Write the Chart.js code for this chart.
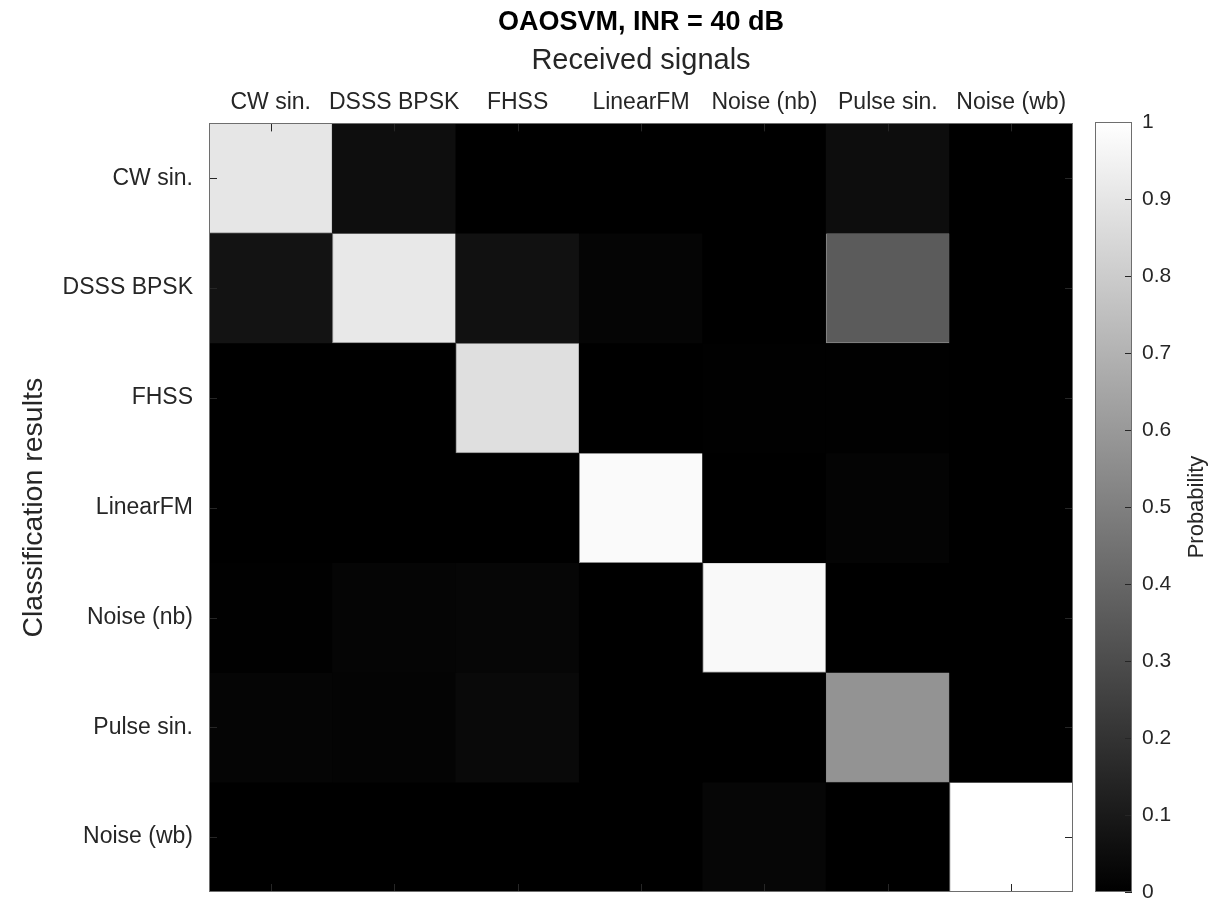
<!DOCTYPE html>
<html><head><meta charset="utf-8">
<script src="https://cdn.jsdelivr.net/npm/chart.js@4.4.1/dist/chart.umd.min.js"></script>
<style>
html,body{margin:0;padding:0;background:#fff;}
#wrap{position:relative;width:1230px;height:903px;overflow:hidden;}
#main{position:absolute;left:0;top:0;}
#cbar{position:absolute;left:1080px;top:0;}
</style></head><body>
<div id="wrap"><canvas id="main" width="1230" height="903"></canvas><canvas id="cbar" width="150" height="903"></canvas></div>
<script>
// ---- data ----
const receivedSignals = ['CW sin.', 'DSSS BPSK', 'FHSS', 'LinearFM', 'Noise (nb)', 'Pulse sin.', 'Noise (wb)'];
const classificationResults = ['CW sin.', 'DSSS BPSK', 'FHSS', 'LinearFM', 'Noise (nb)', 'Pulse sin.', 'Noise (wb)'];
const rowCwSin    = [0.900, 0.055, 0.000, 0.000, 0.000, 0.050, 0.000];
const rowDsssBpsk = [0.075, 0.910, 0.065, 0.020, 0.000, 0.355, 0.000];
const rowFhss     = [0.000, 0.000, 0.875, 0.000, 0.003, 0.005, 0.000];
const rowLinearFm = [0.000, 0.000, 0.000, 0.980, 0.000, 0.015, 0.000];
const rowNoiseNb  = [0.005, 0.020, 0.025, 0.000, 0.975, 0.000, 0.000];
const rowPulseSin = [0.020, 0.015, 0.035, 0.000, 0.000, 0.575, 0.000];
const rowNoiseWb  = [0.000, 0.000, 0.000, 0.000, 0.022, 0.000, 1.000];
const probabilityTicks = [0, 0.1, 0.2, 0.3, 0.4, 0.5, 0.6, 0.7, 0.8, 0.9, 1];

const matrix = [rowCwSin, rowDsssBpsk, rowFhss, rowLinearFm, rowNoiseNb, rowPulseSin, rowNoiseWb];
const FONT = "'Liberation Sans', Arial, Helvetica, sans-serif";
const AXIS_COLOR = '#262626';
function gray(v) { const g = Math.round(255 * Math.max(0, Math.min(1, v))); return `rgb(${g},${g},${g})`; }

const frame = {
  id: 'frame',
  beforeDatasetsDraw(chart) {
    const { ctx, chartArea: a } = chart;
    ctx.save();
    ctx.fillStyle = '#000';
    ctx.fillRect(a.left, a.top, a.right - a.left, a.bottom - a.top);
    ctx.restore();
  },
  afterDatasetsDraw(chart) {
    const { ctx, chartArea: a, scales } = chart;
    const L = 8;
    ctx.save();
    ctx.strokeStyle = AXIS_COLOR;
    ctx.lineWidth = 1;
    ctx.beginPath();
    scales.x.ticks.forEach((t, i) => {
      const px = Math.round(scales.x.getPixelForTick(i)) + 0.5;
      ctx.moveTo(px, a.top); ctx.lineTo(px, a.top + L);
      ctx.moveTo(px, a.bottom); ctx.lineTo(px, a.bottom - L);
    });
    scales.y.ticks.forEach(t => {
      const py = Math.round(scales.y.getPixelForValue(t.value)) + 0.5;
      ctx.moveTo(a.left, py); ctx.lineTo(a.left + L, py);
      ctx.moveTo(a.right, py); ctx.lineTo(a.right - L, py);
    });
    ctx.stroke();
    ctx.strokeStyle = '#6e6e6e';
    ctx.strokeRect(Math.round(a.left) + 0.5, Math.round(a.top) + 0.5, Math.round(a.right - a.left) - 1, Math.round(a.bottom - a.top) - 1);
    ctx.restore();
  }
};

new Chart(document.getElementById('main'), {
  type: 'bar',
  data: {
    labels: receivedSignals,
    datasets: matrix.map((row, r) => ({
      label: classificationResults[r],
      data: row.map(() => [r - 0.5, r + 0.5]),
      backgroundColor: row.map(gray),
      borderColor: row.map(v => v > 0.2 ? '#8a8a8a' : gray(v)),
      borderWidth: row.map(v => v > 0.2 ? 1 : 0),
      borderSkipped: false,
      grouped: false,
      barPercentage: 1,
      categoryPercentage: 1
    }))
  },
  options: {
    responsive: false,
    animation: false,
    events: [],
    layout: { padding: { left: 0, right: 157, top: 0, bottom: 11 } },
    plugins: {
      legend: { display: false },
      tooltip: { enabled: false },
      title: {
        display: true,
        fullSize: false,
        text: 'OAOSVM, INR = 40 dB',
        color: '#000',
        font: { family: FONT, size: 27, weight: 'bold' },
        padding: { top: 6, bottom: 0 }
      }
    },
    scales: {
      x: {
        type: 'category',
        position: 'top',
        offset: true,
        grid: { display: false, drawTicks: false },
        border: { display: false },
        ticks: { color: AXIS_COLOR, font: { family: FONT, size: 23 }, padding: 7, autoSkip: false, maxRotation: 0, minRotation: 0 },
        title: { display: true, text: 'Received signals', color: AXIS_COLOR, font: { family: FONT, size: 29 }, padding: { top: 5, bottom: 0 } },
        afterFit(s) { s.height = 85; s.paddingLeft = 0; s.paddingRight = 0; }
      },
      y: {
        type: 'linear',
        reverse: true,
        min: -0.5,
        max: 6.5,
        grid: { display: false, drawTicks: false },
        border: { display: false },
        afterBuildTicks(s) { s.ticks = classificationResults.map((_, i) => ({ value: i })); },
        ticks: { color: AXIS_COLOR, font: { family: FONT, size: 23 }, padding: 16, callback: v => classificationResults[v] },
        title: { display: true, text: 'Classification results', color: AXIS_COLOR, font: { family: FONT, size: 28.5 }, padding: { top: 17, bottom: 0 } },
        afterFit(s) { s.width = 209; s.paddingTop = 0; s.paddingBottom = 0; }
      }
    }
  },
  plugins: [frame]
});

// ---- colorbar ----
const cbFrame = {
  id: 'cbFrame',
  afterDatasetsDraw(chart) {
    const { ctx, chartArea: a, scales } = chart;
    ctx.save();
    ctx.strokeStyle = AXIS_COLOR;
    ctx.lineWidth = 1;
    ctx.beginPath();
    scales.y.ticks.forEach(t => {
      const py = Math.round(scales.y.getPixelForValue(t.value)) + 0.5;
      ctx.moveTo(a.right, py); ctx.lineTo(a.right - 7, py);
    });
    ctx.stroke();
    ctx.strokeStyle = '#6e6e6e';
    ctx.strokeRect(Math.round(a.left) + 0.5, Math.round(a.top) + 0.5, Math.round(a.right - a.left) - 1, Math.round(a.bottom - a.top) - 1);
    // colorbar label
    ctx.translate(a.right + 65, (a.top + a.bottom) / 2);
    ctx.rotate(-Math.PI / 2);
    ctx.fillStyle = AXIS_COLOR;
    ctx.font = `22px ${FONT}`;
    ctx.textAlign = 'center';
    ctx.textBaseline = 'middle';
    ctx.fillText('Probability', 0, 0);
    ctx.restore();
  }
};

new Chart(document.getElementById('cbar'), {
  type: 'bar',
  data: {
    labels: ['Probability'],
    datasets: [{
      data: [[probabilityTicks[0], probabilityTicks[probabilityTicks.length - 1]]],
      backgroundColor(c) {
        const ch = c.chart; const a = ch.chartArea; const ys = ch.scales.y;
        if (!a || !ys) return '#888';
        const g = ch.ctx.createLinearGradient(0, ys.getPixelForValue(0), 0, ys.getPixelForValue(1));
        g.addColorStop(0, '#000'); g.addColorStop(1, '#fff');
        return g;
      },
      borderWidth: 0,
      barPercentage: 1,
      categoryPercentage: 1
    }]
  },
  options: {
    responsive: false,
    animation: false,
    events: [],
    layout: { padding: { left: 15, right: 0, top: 122, bottom: 11 } },
    plugins: { legend: { display: false }, tooltip: { enabled: false } },
    scales: {
      x: { display: false, offset: true },
      y: {
        position: 'right',
        min: 0, max: 1,
        grid: { display: false, drawTicks: false },
        border: { display: false },
        afterBuildTicks(s) { s.ticks = probabilityTicks.map(v => ({ value: v })); },
        ticks: { color: AXIS_COLOR, font: { family: FONT, size: 21 }, padding: 10, callback: v => String(+Number(v).toFixed(1)) },
        afterFit(s) { s.width = 98; s.paddingTop = 0; s.paddingBottom = 0; }
      }
    }
  },
  plugins: [cbFrame]
});
</script>
</body></html>
